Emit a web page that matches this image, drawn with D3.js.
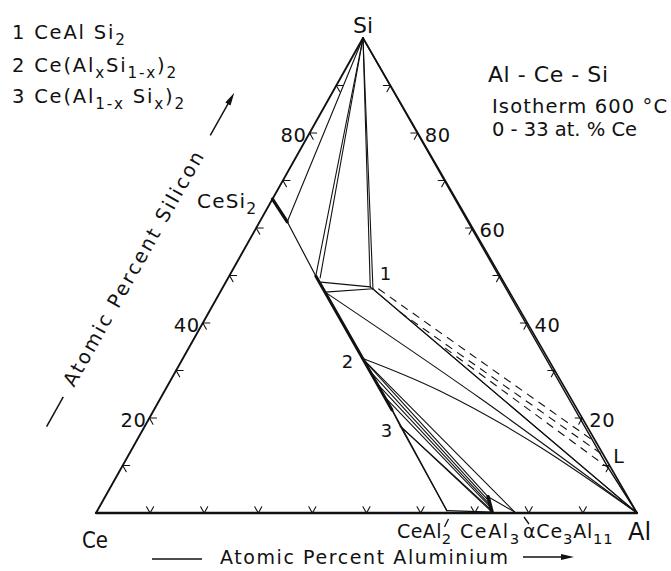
<!DOCTYPE html>
<html>
<head>
<meta charset="utf-8">
<script src="https://cdn.jsdelivr.net/npm/d3@7"></script>
<style>
  html, body { margin: 0; padding: 0; background: #fff; }
  svg { display: block; }
  text { font-family: "DejaVu Sans", sans-serif; fill: #111; }
</style>
</head>
<body>
<svg id="chart" width="671" height="571"></svg>
<script>
// Compositions are [at.% Al, at.% Si]; Ce is the balance.
const vertexCe = [0, 0];
const vertexAl = [100, 0];
const vertexSi = [0, 100];

const edgeTicks = [10, 20, 30, 40, 50, 60, 70, 80, 90];
const leftTickLabels = [80, 40, 20];
const rightTickLabels = [80, 60, 40, 20];

// single-phase ranges
const rangeCeSi2 = [[0, 66.1], [5.1, 61.3]];
const rangeCeAlxSi = [[16.0, 49.9], [44.0, 21.7]];
const rangeCeAl3 = [[73.1, 0.2], [70.8, 3.4]];

// thin parts of the CeSi2 - CeAl2 section and CeAl2 - CeAl3
const sectionThin = [
  [[5.1, 61.3], [16.0, 49.9]],
  [[44.0, 21.7], [47.2, 18.3], [64.6, 0.5]],
  [[43.1, 22.7], [64.6, 0.5]],
  [[64.6, 0.5], [73.1, 0.2]]
];

// tie lines running from the Si corner
const siTieEnds = [[5.1, 61.3], [16.0, 49.9], [17.0, 49.5], [27.2, 47.6], [27.9, 47.2]];

// CeAlSi2 (phase 1) to the Ce(Al,Si)2 section
const ceAlSi2Ties = [
  [[17.6, 48.6], [27.2, 47.6]],
  [[19.4, 46.5], [27.9, 47.2]]
];

// straight tie lines from phase 1 to Al
const alTieStarts = [[27.2, 47.6], [27.9, 47.2]];

// bounding lines of the Ce(Al,Si)2 + (Al) field
const alCurves = [
  [[19.4, 46.5], [59.0, 24.2], [100, 0]],
  [[33.1, 32.6], [50.9, 25.7], [75.2, 13.9], [100, 0]]
];

// tie lines towards CeAl3 and Ce3Al11
const ceAl3Ties = [
  [[33.1, 32.6], [77.3, 0.2]],
  [[33.1, 32.6], [70.8, 3.4]],
  [[35.6, 30.1], [71.4, 2.5]],
  [[38.3, 27.4], [72.0, 1.7]],
  [[40.8, 24.8], [72.5, 1.1]],
  [[47.2, 18.3], [72.8, 0.6]],
  [[47.2, 18.3], [73.1, 0.2]],
  [[70.8, 3.4], [77.3, 0.2]]
];

// liquid tie lines (dashed)
const liquidTies = [
  [[28.9, 47.2], [85.3, 14.7]],
  [[35.3, 42.3], [87.7, 12.2]],
  [[47.4, 34.7], [90.0, 9.5]]
];

// liquid boundary running along the Al-Si side
const liquidPoint = [90.0, 9.5];
const liquidLine = [[0, 100], liquidPoint, [100, 0]];

// numbered phases
const phasePoints = [
  { id: "1", at: [27.6, 47.4] },
  { id: "2", at: [33.1, 32.6] },
  { id: "3", at: [47.2, 18.3] }
];

// ---- projection of the composition triangle ----
const alScale = d3.scaleLinear().domain([0, 100]).range([96, 637]);
const siShift = d3.scaleLinear().domain([0, 100]).range([0, 267]);
const siScale = d3.scaleLinear().domain([0, 100]).range([513, 38]);
const proj = ([al, si]) => [alScale(al) + siShift(si), siScale(si)];

const svg = d3.select("#chart");
const ink = "#111";

const straight = d3.line().x(d => proj(d)[0]).y(d => proj(d)[1]);
const smooth = d3.line().x(d => proj(d)[0]).y(d => proj(d)[1]).curve(d3.curveNatural);

function draw(points, width, gen = straight, dash = null) {
  const p = svg.append("path")
    .attr("d", gen(points))
    .attr("fill", "none")
    .attr("stroke", ink)
    .attr("stroke-width", width)
    .attr("stroke-linejoin", "round")
    .attr("stroke-linecap", "round");
  if (dash) p.attr("stroke-dasharray", dash).attr("stroke-linecap", "butt");
  return p;
}

// ---- phase field lines ----
siTieEnds.forEach(e => draw([vertexSi, e], 1.1));
ceAlSi2Ties.forEach(t => draw(t, 1.1));
alTieStarts.forEach(s => draw([s, vertexAl], 1.1));
alCurves.forEach(c => draw(c, 1.1, smooth));
ceAl3Ties.forEach(t => draw(t, 1.1));
liquidTies.forEach(t => draw(t, 1.1, straight, "8,6"));
draw(liquidLine, 1.4);
sectionThin.forEach(s => draw(s, 1.2));

draw(rangeCeSi2, 3.2);
draw(rangeCeAlxSi, 3.0);
draw(rangeCeAl3, 3.6);

// ---- triangle ----
draw([vertexCe, vertexSi], 1.9);
draw([vertexSi, vertexAl], 1.7);
draw([vertexCe, vertexAl], 2.3);

// ---- tick marks along grid directions ----
const dt = 1.3;
const tickGroup = [];
edgeTicks.forEach(v => {
  // bottom edge (Al %)
  tickGroup.push([[v - dt, dt], [v, 0], [v, dt]]);
  // left edge (Si %)
  tickGroup.push([[dt, v], [0, v], [dt, v - dt]]);
  // right edge (Si %)
  tickGroup.push([[100 - v - dt, v], [100 - v, v], [100 - v, v - dt]]);
});
tickGroup.forEach(t => draw(t, 1.1));

// ---- tick labels ----
leftTickLabels.forEach(v => {
  const [x, y] = proj([0, v]);
  svg.append("text").attr("x", x - 3).attr("y", y + 9)
    .attr("text-anchor", "end").attr("font-size", 19.5)
    .attr("letter-spacing", 0.6).text(v);
});
rightTickLabels.forEach(v => {
  const [x, y] = proj([100 - v, v]);
  svg.append("text").attr("x", x + 7).attr("y", y + 9)
    .attr("font-size", 19.5).attr("letter-spacing", 0.6).text(v);
});

// ---- text helper with subscripts ----
function rich(x, y, parts, size, spacing = 0) {
  const t = svg.append("text").attr("x", x).attr("y", y)
    .attr("font-size", size).attr("letter-spacing", spacing);
  let low = false;
  const drop = size * 0.3;
  parts.forEach(([s, sub]) => {
    const ts = t.append("tspan").text(s);
    if (sub && !low) { ts.attr("dy", drop).attr("font-size", size * 0.78); low = true; }
    else if (sub) { ts.attr("font-size", size * 0.78); }
    else if (!sub && low) { ts.attr("dy", -drop); low = false; }
  });
  return t;
}

// legend of numbered phases
rich(12, 39, [["1 CeAl Si", false], ["2", true]], 19.5, 1.8);
rich(12, 72, [["2 Ce(Al", false], ["x", true], ["Si", false], ["1-x", true], [")", false], ["2", true]], 19.5, 1.8);
rich(12, 103, [["3 Ce(Al", false], ["1-x", true], [" Si", false], ["x", true], [")", false], ["2", true]], 19.5, 1.8);

// title block
svg.append("text").attr("x", 488).attr("y", 82).attr("font-size", 22)
  .attr("textLength", 120).attr("lengthAdjust", "spacing").text("Al - Ce - Si");
svg.append("text").attr("x", 492).attr("y", 113).attr("font-size", 19.5)
  .attr("textLength", 175).attr("lengthAdjust", "spacing").text("Isotherm 600 °C");
svg.append("text").attr("x", 492).attr("y", 136).attr("font-size", 19.5)
  .attr("textLength", 145).attr("lengthAdjust", "spacing").text("0 - 33 at. % Ce");

// corner labels
const [siX, siY] = proj(vertexSi);
svg.append("text").attr("x", siX).attr("y", siY - 5).attr("text-anchor", "middle")
  .attr("font-size", 22).text("Si");
const [ceX, ceY] = proj(vertexCe);
svg.append("text").attr("x", ceX - 14).attr("y", ceY + 35).attr("font-size", 23)
  .attr("textLength", 26).attr("lengthAdjust", "spacingAndGlyphs").text("Ce");
const [alX, alY] = proj(vertexAl);
svg.append("text").attr("x", alX - 9).attr("y", alY + 27).attr("font-size", 24).text("Al");

// liquid label
const [lx, ly] = proj(liquidPoint);
svg.append("text").attr("x", lx + 5).attr("y", ly - 5).attr("font-size", 19).text("L");

// compound labels
rich(197, 208, [["CeSi", false], ["2", true]], 20, 1.2);
rich(397, 538, [["CeAl", false], ["2", true]], 19, 0.4);
rich(460, 538, [["CeAl", false], ["3", true]], 19, 1.6);
rich(523, 538, [["αCe", false], ["3", true], ["Al", false], ["11", true]], 19, 0.8);

// small pointers under the CeAl2 and α-Ce3Al11 labels
const [c2x, c2y] = proj([64.6, 0]);
svg.append("line").attr("x1", c2x - 1).attr("y1", c2y + 14).attr("x2", c2x + 3).attr("y2", c2y + 6)
  .attr("stroke", ink).attr("stroke-width", 1.3);
svg.append("line").attr("x1", 524).attr("y1", 517).attr("x2", 529).attr("y2", 524)
  .attr("stroke", ink).attr("stroke-width", 1.3);

// numbered phase labels
const labelOffsets = { "1": [8, -8, "start"], "2": [-9, 10, "end"], "3": [-8, 11, "end"] };
phasePoints.forEach(p => {
  const [x, y] = proj(p.at);
  const [dx, dy, anchor] = labelOffsets[p.id];
  svg.append("text").attr("x", x + dx).attr("y", y + dy).attr("text-anchor", anchor)
    .attr("font-size", 18).text(p.id);
});

// ---- axis titles with arrows ----
function arrowHead(g, x, y) {
  g.append("path").attr("d", `M${x},${y} L${x - 13},${y - 3} L${x - 13},${y + 3} Z`).attr("fill", ink);
}

const edgeAngle = Math.atan2(siY - ceY, siX - ceX) * 180 / Math.PI;
const leftTitle = svg.append("g").attr("transform", `translate(74,388) rotate(${edgeAngle})`);
leftTitle.append("line").attr("x1", -47).attr("x2", -13).attr("y1", -5).attr("y2", -5)
  .attr("stroke", ink).attr("stroke-width", 1.5);
leftTitle.append("text").attr("x", 0).attr("y", 0).attr("font-size", 19.5)
  .attr("textLength", 266).attr("lengthAdjust", "spacing").text("Atomic Percent Silicon");
leftTitle.append("line").attr("x1", 287).attr("x2", 326).attr("y1", -5).attr("y2", -5)
  .attr("stroke", ink).attr("stroke-width", 1.5);
arrowHead(leftTitle, 336, -5);

const bottomTitle = svg.append("g");
bottomTitle.append("line").attr("x1", 152).attr("x2", 202).attr("y1", 559).attr("y2", 559)
  .attr("stroke", ink).attr("stroke-width", 1.5);
bottomTitle.append("text").attr("x", 220).attr("y", 564).attr("font-size", 19)
  .attr("textLength", 288).attr("lengthAdjust", "spacing").text("Atomic Percent Aluminium");
bottomTitle.append("line").attr("x1", 523).attr("x2", 562).attr("y1", 557).attr("y2", 557)
  .attr("stroke", ink).attr("stroke-width", 1.5);
arrowHead(bottomTitle, 574, 557);
</script>
</body>
</html>
